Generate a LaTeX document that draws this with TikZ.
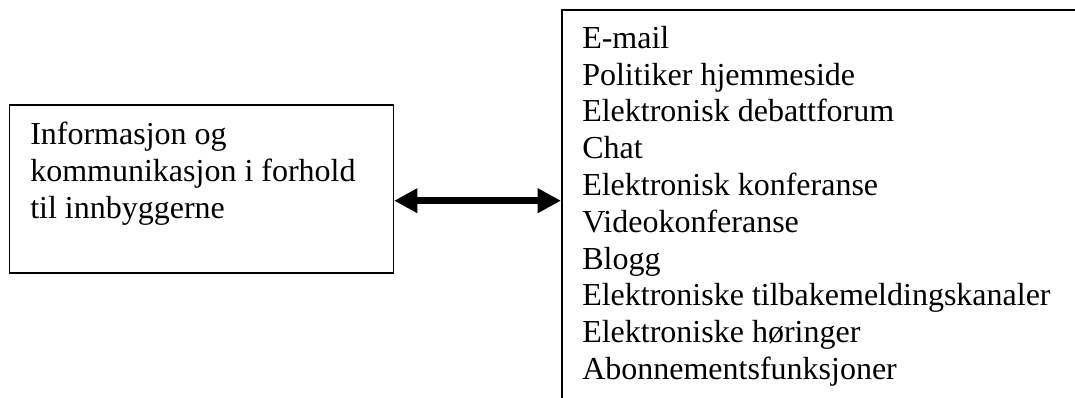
\documentclass[tikz,border=0pt]{standalone}
\usepackage{fontspec}
\setmainfont{Liberation Serif}
\usetikzlibrary{arrows.meta}
\begin{document}
\begin{tikzpicture}[x=0.75pt,y=-0.75pt,
  frame/.style={draw=black, line width=1.2pt, inner sep=0pt, anchor=north west},
  entry/.style={anchor=base west, inner sep=0pt, font=\fontsize{24}{27.6}\selectfont},
  link/.style={line width=5pt,
    {Triangle[length=17.5pt,width=17.5pt]}-{Triangle[length=17.5pt,width=17.5pt]}}]
\useasboundingbox (0,0) rectangle (1075,398);

% the two boxes; the channel box runs past the page edge
\node[frame, minimum width=288pt, minimum height=126pt] (src) at (8.5,104) {};
\node[frame, minimum width=450pt, minimum height=400pt] (chan) at (561,9) {};

% text of the left box
\foreach \t [count=\i] in {Informasjon og, kommunikasjon i forhold, til innbyggerne}
  \node[entry] (src\i) at (30,{144.3+37.2*(\i-1)}) {\t};

% list of channels
\foreach \t [count=\i] in {E-mail, Politiker hjemmeside, Elektronisk debattforum, Chat,
    Elektronisk konferanse, Videokonferanse, Blogg,
    Elektroniske tilbakemeldingskanaler, Elektroniske høringer, Abonnementsfunksjoner}
  \node[entry] (ch\i) at (582,{48.3+36.8*(\i-1)}) {\t};

% two-way link between the boxes
\coordinate (lvl) at (0,200.7);
\draw[link] (src.east |- lvl) -- (chan.west |- lvl);
\end{tikzpicture}
\end{document}
